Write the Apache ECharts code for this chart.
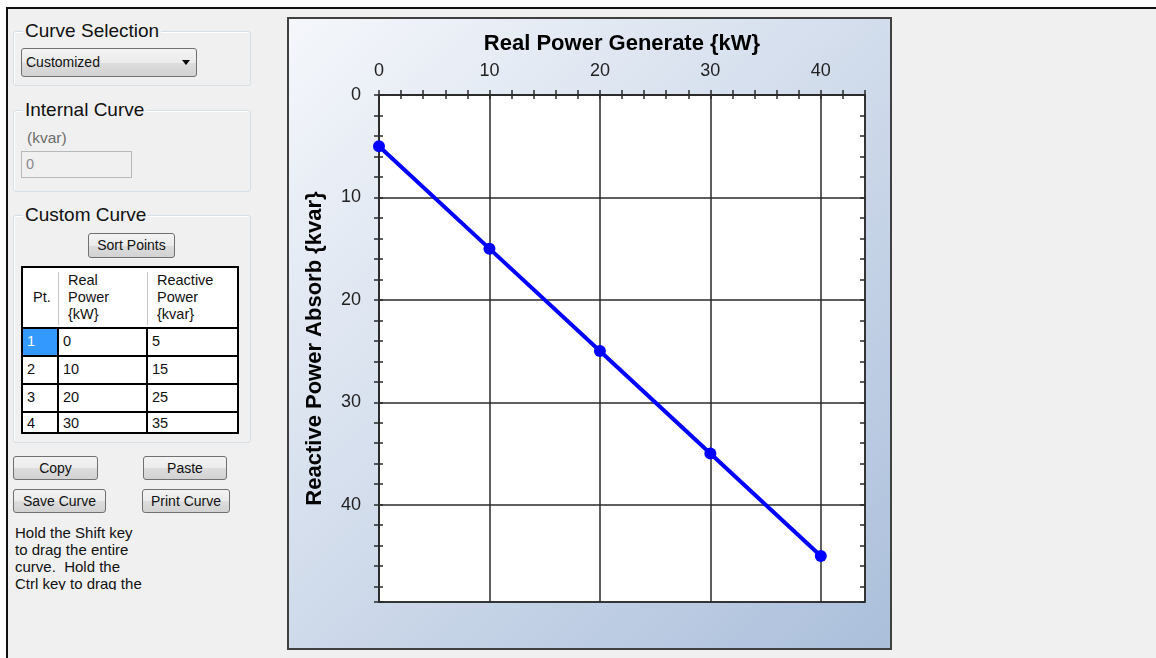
<!DOCTYPE html>
<html>
<head>
<meta charset="utf-8">
<script src="https://cdn.jsdelivr.net/npm/echarts@6/dist/echarts.min.js"></script>
<style>
html,body{margin:0;padding:0;width:1156px;height:658px;overflow:hidden;background:#fff;font-family:'Liberation Sans',Arial,sans-serif;}
#frame{position:absolute;left:6px;top:7px;width:1150px;height:651px;border-left:2px solid #111;border-top:2px solid #111;background:#f0f0f0;box-sizing:border-box;}
.group{position:absolute;box-sizing:border-box;border:1px solid #d5dfe5;border-radius:3px;box-shadow:inset 1px 1px 0 #fff;}
.gtitle{position:absolute;font-size:19px;color:#111;background:#f0f0f0;padding:0 2px;line-height:20px;white-space:nowrap;}
.btn{position:absolute;box-sizing:border-box;border:1px solid #707070;border-radius:3px;background:linear-gradient(#f3f3f3,#ebebeb 50%,#dddddd 51%,#d2d2d2);font-size:14px;text-align:center;color:#111;white-space:nowrap;}
.txt{position:absolute;font-size:14.5px;color:#111;white-space:nowrap;}
.hl{position:absolute;background:#000;}
#chart{position:absolute;left:287px;top:17px;width:605px;height:633px;border:2px solid #404040;box-sizing:border-box;}
</style>
</head>
<body>
<div id="frame"></div>

<!-- Curve Selection -->
<div class="group" style="left:13px;top:31px;width:238px;height:55px;"></div>
<div class="gtitle" style="left:23px;top:21px;">Curve Selection</div>
<div class="btn" style="left:21px;top:48px;width:176px;height:29px;text-align:left;padding-left:4px;line-height:27px;">Customized</div>
<div style="position:absolute;left:182px;top:60px;width:0;height:0;border-left:4.5px solid transparent;border-right:4.5px solid transparent;border-top:5px solid #000;"></div>

<!-- Internal Curve -->
<div class="group" style="left:13px;top:110px;width:238px;height:82px;"></div>
<div class="gtitle" style="left:23px;top:100px;">Internal Curve</div>
<div class="txt" style="left:27px;top:129px;line-height:18px;color:#6d6d6d;font-size:15.5px;">(kvar)</div>
<div style="position:absolute;left:21px;top:151px;width:111px;height:27px;box-sizing:border-box;border:1px solid #b5b9bc;background:#f0f0f0;"></div>
<div class="txt" style="left:26px;top:155px;line-height:18px;color:#8a8a8a;">0</div>

<!-- Custom Curve -->
<div class="group" style="left:13px;top:215px;width:238px;height:228px;"></div>
<div class="gtitle" style="left:23px;top:205px;">Custom Curve</div>
<div class="btn" style="left:88px;top:233px;width:87px;height:25px;line-height:23px;">Sort Points</div>
<div id="table"></div>

<!-- Buttons -->
<div class="btn" style="left:13px;top:456px;width:85px;height:24px;line-height:22px;">Copy</div>
<div class="btn" style="left:143px;top:456px;width:84px;height:24px;line-height:22px;">Paste</div>
<div class="btn" style="left:13px;top:489px;width:93px;height:24px;line-height:22px;">Save Curve</div>
<div class="btn" style="left:142px;top:489px;width:88px;height:24px;line-height:22px;">Print Curve</div>

<div style="position:absolute;left:15px;top:524px;width:220px;height:66px;overflow:hidden;font-size:15px;line-height:17px;color:#111;white-space:nowrap;">Hold the Shift key<br>to drag the entire<br>curve.&nbsp; Hold the<br>Ctrl key to drag the<br>whole curve in X.</div>

<div id="chart"></div>

<script>
// ---- data ----
const realPower = [0, 10, 20, 30, 40];          // kW
const reactivePower = [5, 15, 25, 35, 45];      // kvar
const pointNumbers = [1, 2, 3, 4];              // rows visible in the table
const xTickLabels = ['0', '10', '20', '30', '40'];
const yTickLabels = ['0', '10', '20', '30', '40'];
const xTitle = 'Real Power Generate {kW}';
const yTitle = 'Reactive Power Absorb {kvar}';
const tableHeaders = ['Pt.', 'Real\nPower\n{kW}', 'Reactive\nPower\n{kvar}'];

// ---- table (HTML) ----
(function buildTable(){
  const t = document.getElementById('table');
  let h = '';
  const L = 21, T = 266, R = 239, B = 434;
  const rowY = [327, 355, 383, 411];
  h += `<div style="position:absolute;left:${L}px;top:${T}px;width:${R-L}px;height:${B-T}px;background:#fff;"></div>`;
  h += `<div style="position:absolute;left:58px;top:272px;width:1px;height:53px;background:#c9c9c9;"></div>`;
  h += `<div style="position:absolute;left:147px;top:272px;width:1px;height:53px;background:#c9c9c9;"></div>`;
  h += `<div style="position:absolute;left:23px;top:329px;width:34px;height:26px;background:#3399ff;"></div>`;
  h += `<div class="hl" style="left:${L}px;top:${T}px;width:${R-L}px;height:2px;"></div>`;
  h += `<div class="hl" style="left:${L}px;top:${T}px;width:2px;height:${B-T}px;"></div>`;
  h += `<div class="hl" style="left:${R-2}px;top:${T}px;width:2px;height:${B-T}px;"></div>`;
  rowY.forEach(y => { h += `<div class="hl" style="left:${L}px;top:${y}px;width:${R-L}px;height:2px;"></div>`; });
  h += `<div class="hl" style="left:${L}px;top:${B-2}px;width:${R-L}px;height:2px;"></div>`;
  h += `<div class="hl" style="left:57px;top:327px;width:2px;height:${B-327}px;"></div>`;
  h += `<div class="hl" style="left:146px;top:327px;width:2px;height:${B-327}px;"></div>`;
  h += `<div class="txt" style="left:33px;top:289px;line-height:17px;">${tableHeaders[0]}</div>`;
  h += `<div class="txt" style="left:68px;top:272px;line-height:17px;white-space:pre;">${tableHeaders[1]}</div>`;
  h += `<div class="txt" style="left:157px;top:272px;line-height:17px;white-space:pre;">${tableHeaders[2]}</div>`;
  pointNumbers.forEach((p, i) => {
    const y = rowY[i] + (i === 3 ? -1 : 1);
    const col = i === 0 ? '#fff' : '#111';
    h += `<div class="txt" style="left:27px;top:${y}px;line-height:26px;color:${col};">${p}</div>`;
    h += `<div class="txt" style="left:63px;top:${y}px;line-height:26px;">${realPower[i]}</div>`;
    h += `<div class="txt" style="left:152px;top:${y}px;line-height:26px;">${reactivePower[i]}</div>`;
  });
  t.innerHTML = h;
})();

// ---- chart ----
const chart = echarts.init(document.getElementById('chart'), null, {renderer: 'canvas'});
const FONT = "'Liberation Sans', Arial, sans-serif";
const dark = '#2a2a2a';
const gridColors = [dark, 'rgba(0,0,0,0)', 'rgba(0,0,0,0)', 'rgba(0,0,0,0)', 'rgba(0,0,0,0)'];
const fmtX = v => (xTickLabels.indexOf(String(v)) >= 0 ? String(v) : '');
const fmtY = v => (yTickLabels.indexOf(String(v)) >= 0 ? String(v) : '');
const gridRect = {left: 90, top: 76, width: 486, height: 507};

const option = {
  animation: false,
  backgroundColor: {
    type: 'linear', x: 0, y: 0, x2: 1, y2: 1,
    colorStops: [{offset: 0, color: '#f5f7fb'}, {offset: 1, color: '#abbfdb'}]
  },
  grid: [
    Object.assign({show: true, backgroundColor: '#ffffff', borderColor: dark, borderWidth: 1.5}, gridRect),
    Object.assign({show: false}, gridRect)
  ],
  xAxis: [
    {
      gridIndex: 0, type: 'value', position: 'top', min: 0, max: 44, interval: 2,
      name: xTitle, nameLocation: 'middle', nameGap: 40,
      nameTextStyle: {fontSize: 22, fontWeight: 'bold', color: '#000', fontFamily: FONT},
      axisLine: {show: true, lineStyle: {color: dark, width: 1.5}},
      axisTick: {show: true, inside: false, length: 5, lineStyle: {color: dark, width: 1.5}},
      axisLabel: {show: true, margin: 15, fontSize: 18, color: '#222', fontFamily: FONT, formatter: fmtX},
      splitLine: {show: true, lineStyle: {color: gridColors, width: 1.5}}
    },
    {
      gridIndex: 1, type: 'value', position: 'top', min: 0, max: 44, interval: 2,
      axisLine: {show: false},
      axisTick: {show: true, inside: true, length: 4, lineStyle: {color: dark, width: 1.5}},
      axisLabel: {show: false}, splitLine: {show: false}
    }
  ],
  yAxis: [
    {
      gridIndex: 0, type: 'value', position: 'left', inverse: true, min: 0, max: 49.5, interval: 2,
      name: yTitle, nameLocation: 'middle', nameGap: 53,
      nameTextStyle: {fontSize: 22, fontWeight: 'bold', color: '#000', fontFamily: FONT},
      axisLine: {show: true, lineStyle: {color: dark, width: 1.5}},
      axisTick: {show: true, inside: false, length: 5, lineStyle: {color: dark, width: 1.5}},
      axisLabel: {show: true, margin: 18, fontSize: 18, color: '#222', fontFamily: FONT, formatter: fmtY},
      splitLine: {show: true, lineStyle: {color: gridColors, width: 1.5}}
    },
    {
      gridIndex: 0, type: 'value', position: 'right', inverse: true, min: 0, max: 49.5, interval: 2,
      axisLine: {show: true, lineStyle: {color: dark, width: 1.5}},
      axisTick: {show: true, inside: true, length: 5, lineStyle: {color: dark, width: 1.5}},
      axisLabel: {show: false}, splitLine: {show: false}
    },
    {
      gridIndex: 1, type: 'value', position: 'left', inverse: true, min: 0, max: 49.5, interval: 2,
      axisLine: {show: false},
      axisTick: {show: true, inside: true, length: 4, lineStyle: {color: dark, width: 1.5}},
      axisLabel: {show: false}, splitLine: {show: false}
    }
  ],
  series: [{
    type: 'line', xAxisIndex: 0, yAxisIndex: 0,
    data: realPower.map((x, i) => [x, reactivePower[i]]),
    symbol: 'circle', symbolSize: 12, showSymbol: true, clip: true,
    lineStyle: {color: '#0000ff', width: 4},
    itemStyle: {color: '#0000ff'},
    z: 5
  }]
};
chart.setOption(option);
</script>
</body>
</html>
